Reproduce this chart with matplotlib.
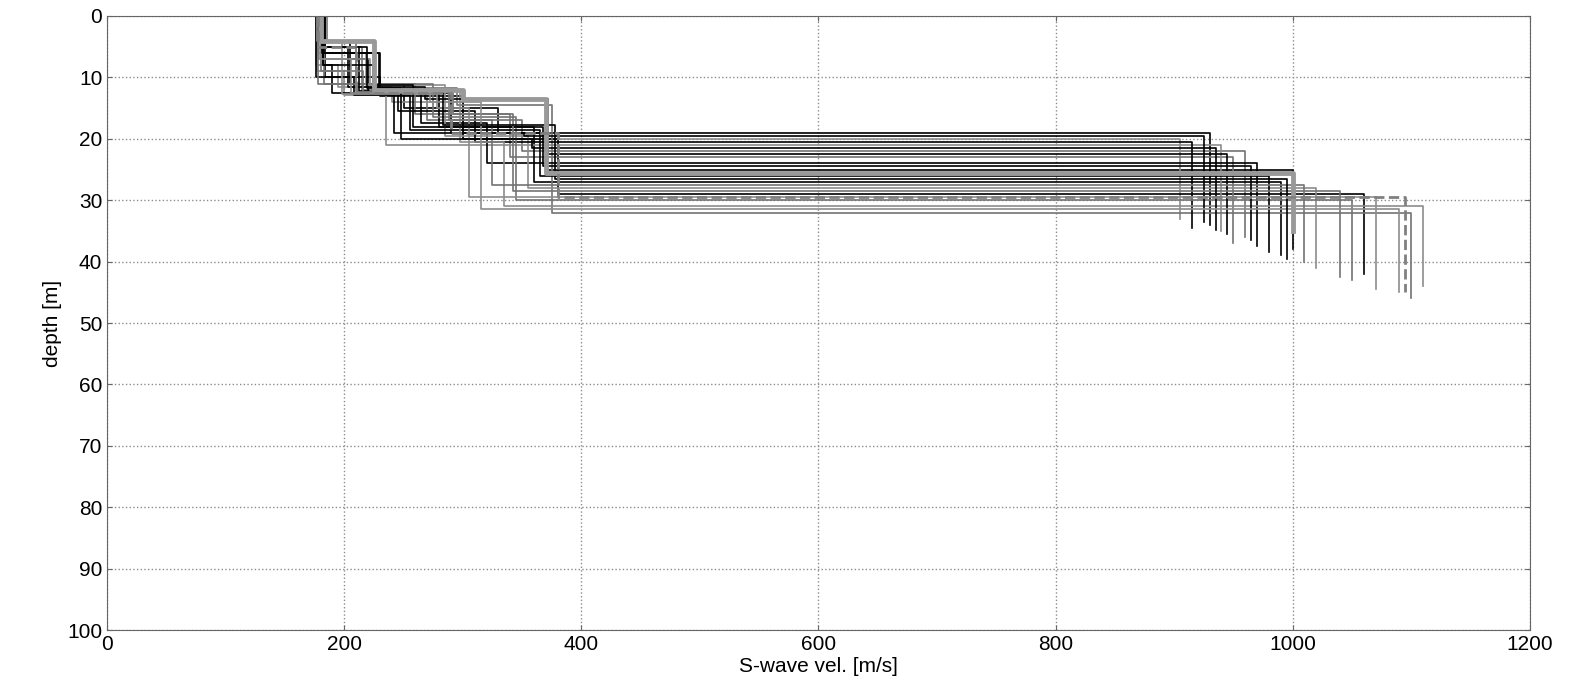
import matplotlib
matplotlib.use("Agg")
import matplotlib.pyplot as plt
plt.rcParams['font.family'] = ['Liberation Sans', 'DejaVu Sans']

# layer velocities (m/s) for each candidate profile
v1 = [178,180,182,176,184,179,181,177,183,180,178,182,185,176,179,181,180,183,177,182,178,184,180,181]
v2 = [205,215,225,195,230,210,220,200,228,212,218,190,226,208,222,203,216,230,198,224,211,219,206,229]
v3 = [250,270,290,240,300,260,280,235,295,265,285,245,275,255,298,268,288,242,278,258,292,248,272,283]
v4 = [330,350,370,300,380,340,360,290,375,320,355,310,345,365,335,372,325,352,305,368,342,358,315,378]
v5 = [930,960,1000,905,1060,950,990,940,1100,970,1020,915,1050,980,1110,945,1010,925,1070,965,1040,935,1090,995]
# interface depths (m)
d1 = [4,5,6,8,10,4,7,9,11,5,6,8,4,10,7,5,9,6,4,8,11,5,7,6]
d2 = [11,12,12.5,11.5,13,11,12,12.8,11.8,12.2,11.3,12.6,11,12.9,12.1,11.6,12.4,11.9,12.7,11.2,12.3,11.7,12.5,12]
d3 = [15,17,19,14,20,16,18,21,14.5,17.5,19.5,15.5,16.5,18.5,20.5,13.5,17,19,15,18,16,20,14,17.8]
d4 = [19,22,25,20,29,23,27,21,32,24,28,20.5,30,26,31,22.5,27.5,19.5,29.5,24.5,28.5,21.5,31.5,26.5]
d_end = [34,36,38,33,42,37,39,35,46,37.5,41,34.5,43,38.5,44,35.5,40,33.5,44.5,36.5,42.5,34.8,45,39.5]
line_col = ['k','0.45','k','0.55','k','0.45','k','0.55','0.45','k','0.55','k','0.45','k','0.55','k','0.45','k','0.55','k','0.45','k','0.55','k']

# highlighted profiles
best_v = [180, 225, 300, 370, 1000]
best_d = [4, 12, 13.5, 25.5, 35]
dash_v = [178, 210, 290, 380, 1095]
dash_d = [5, 12.5, 19, 29.5, 45]

def step(v, d):
    xs, ys = [], []
    top = 0
    for vi, di in zip(v, d):
        xs += [vi, vi]
        ys += [top, di]
        top = di
    return xs, ys

fig = plt.figure(figsize=(15.77, 6.94), dpi=100)
ax = fig.add_axes([0.068, 0.092, 0.902, 0.885])
for i in range(len(v1)):
    v = [v1[i], v2[i], v3[i], v4[i], v5[i]]
    d = [d1[i], d2[i], d3[i], d4[i], d_end[i]]
    xs, ys = step(v, d)
    ax.plot(xs, ys, color=line_col[i], lw=1.2)
xs, ys = step(best_v, best_d)
ax.plot(xs, ys, color='0.6', lw=3.5)
xs, ys = step(dash_v, dash_d)
ax.plot(xs, ys, color='0.5', lw=2, ls='--')

ax.set_xlim(0, 1200)
ax.set_ylim(100, 0)
ax.set_xticks(range(0, 1201, 200))
ax.set_yticks(range(0, 101, 10))
ax.grid(True, ls=':', color='0.55', lw=1.0)
for s in ax.spines.values():
    s.set_color('0.4')
ax.tick_params(direction='in', labelsize=15, top=True, right=True, color='0.4')
ax.set_xlabel('S-wave vel. [m/s]', fontsize=15, labelpad=2)
ax.set_ylabel('depth [m]', fontsize=15)
fig.savefig('out.png')
